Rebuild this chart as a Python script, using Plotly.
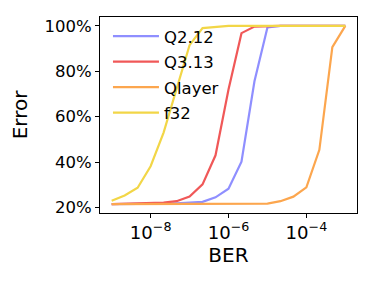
import plotly.graph_objects as go

ber = [1e-9, 2.154e-9, 4.642e-9, 1e-8, 2.154e-8, 4.642e-8, 1e-7, 2.154e-7, 4.642e-7,
       1e-6, 2.154e-6, 4.642e-6, 1e-5, 2.154e-5, 4.642e-5, 1e-4, 2.154e-4, 4.642e-4, 1e-3]

q2_12 = [21.5, 21.5, 21.5, 21.6, 21.7, 21.9, 22.1, 22.5, 24.5, 28.3, 40.2, 75.6, 99.3,
         100, 100, 100, 100, 100, 100]
q3_13 = [21.5, 21.6, 21.7, 21.9, 22.2, 22.8, 24.8, 30.2, 43.0, 72.0, 96.8, 99.7, 100,
         100, 100, 100, 100, 100, 100]
qlayer = [21.5, 21.5, 21.5, 21.5, 21.5, 21.4, 21.4, 21.4, 21.4, 21.4, 21.5, 21.6, 21.7,
          22.8, 24.8, 28.9, 45.4, 90.6, 100]
f32 = [23.0, 25.3, 28.7, 38.2, 53.0, 72.5, 91.5, 99.0, 99.6, 100, 100, 100, 100,
       100, 100, 100, 100, 100, 100]

names = ["Q2.12", "Q3.13", "Qlayer", "f32"]
series = [q2_12, q3_13, qlayer, f32]
colors = ["#8f8fff", "#f05858", "#fca64e", "#f2d647"]

y_ticks = [20, 40, 60, 80, 100]

fig = go.Figure()
for i, (n, s, c) in enumerate(zip(names, series, colors)):
    fig.add_trace(go.Scatter(x=ber, y=s, mode="lines", name=n,
                             line=dict(color=c, width=2.2),
                             legendgroup=n))

font = dict(family="DejaVu Sans", size=16.5, color="#000000")
fig.update_layout(
    template=None,
    width=366, height=278,
    margin=dict(l=92, r=17, t=9, b=73),
    paper_bgcolor="white", plot_bgcolor="white",
    font=font,
    showlegend=True,
    legend=dict(x=0.031, y=0.99, xanchor="left", yanchor="top",
                bgcolor="rgba(0,0,0,0)", font=font, tracegroupgap=1,
                traceorder="grouped", itemwidth=46),
)
fig.update_xaxes(type="log", range=[-9.3, -2.7], dtick=2, exponentformat="power",
                 automargin=False, tickfont=dict(size=14.5),
                 showgrid=False, zeroline=False, showline=True, linecolor="black",
                 linewidth=1, mirror=True, ticks="outside", ticklen=4,
                 tickcolor="black", title=dict(text="BER", standoff=5))
fig.update_yaxes(range=[17.6, 103.9], tickvals=y_ticks,
                 ticktext=[f"{v}%" for v in y_ticks],
                 automargin=False,
                 showgrid=False, zeroline=False, showline=True, linecolor="black",
                 linewidth=1, mirror=True, ticks="outside", ticklen=4,
                 tickcolor="black", title=dict(text="Error", standoff=12))

fig.write_html("out.html")
